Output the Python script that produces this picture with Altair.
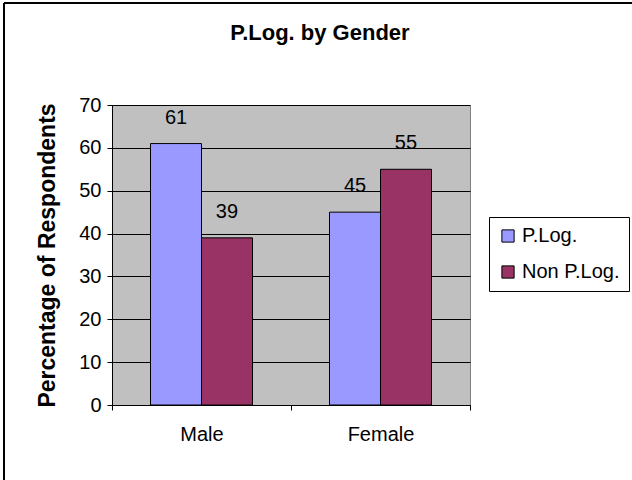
import altair as alt
import pandas as pd

# Survey shares by gender
genders = ["Male", "Female"]
series = ["P.Log.", "Non P.Log."]
plog_values = [61, 45]
non_plog_values = [39, 55]
colors = ["#9999FF", "#993366"]
chart_title = "P.Log. by Gender"

rows = []
for g, a, b in zip(genders, plog_values, non_plog_values):
    rows.append({"gender": g, "series": series[0], "value": a})
    rows.append({"gender": g, "series": series[1], "value": b})
df = pd.DataFrame(rows)

FONT = "Liberation Sans"

x_enc = alt.X(
    "gender:N",
    sort=genders,
    scale=alt.Scale(paddingInner=0, paddingOuter=0),
    axis=alt.Axis(
        title=None, labelAngle=0, tickBand="extent", tickSize=5,
        labelPadding=14, labelFontSize=20, labelFont=FONT, labelColor="black",
        domainColor="black", tickColor="black", grid=False,
    ),
)
xoff_enc = alt.XOffset(
    "series:N", sort=series,
    scale=alt.Scale(paddingOuter=0.755, paddingInner=0),
)
y_enc = alt.Y(
    "value:Q",
    scale=alt.Scale(domain=[0, 70], nice=False),
    axis=alt.Axis(
        title="Percentage of Respondents", values=list(range(0, 71, 10)),
        tickSize=5, labelPadding=6, labelFontSize=20, labelFont=FONT,
        labelColor="black", titleFont=FONT, titleFontSize=23,
        titleFontWeight="bold", titleColor="black", titlePadding=19,
        domainColor="black", tickColor="black",
        grid=True, gridColor="black", gridWidth=1,
    ),
)

# Outer frame edges (top and left) around the figure
frame_top = alt.Chart(df).mark_rule(color="black", strokeWidth=2).encode(
    x=alt.value(-108), x2=alt.value(520), y=alt.value(-102),
)
frame_left = alt.Chart(df).mark_rule(color="black", strokeWidth=2).encode(
    x=alt.value(-108), y=alt.value(-102), y2=alt.value(375),
)

# Chart heading, centred over the whole figure
heading = alt.Chart(pd.DataFrame({"t": [chart_title]})).mark_text(
    font=FONT, fontSize=22, fontWeight="bold", color="black",
    align="center", baseline="alphabetic",
).encode(
    x=alt.value(208), y=alt.value(-65), text="t:N",
)

bars = alt.Chart(df).mark_bar(stroke="black", strokeWidth=1, opacity=1).encode(
    x=x_enc,
    xOffset=xoff_enc,
    y=y_enc,
    color=alt.Color(
        "series:N", sort=series,
        scale=alt.Scale(domain=series, range=colors),
        legend=alt.Legend(
            title=None, orient="none", legendX=377, legendY=112,
            symbolType="square", symbolSize=150, symbolStrokeColor="black",
            symbolStrokeWidth=1, symbolOpacity=1,
            labelFont=FONT, labelFontSize=20, labelColor="black",
            labelLimit=300, rowPadding=16, padding=9,
            strokeColor="black", fillColor="white",
        ),
    ),
)

labels = alt.Chart(df).mark_text(
    baseline="alphabetic", dy=-20, fontSize=20, font=FONT, color="black"
).encode(
    x=alt.X("gender:N", sort=genders),
    xOffset=alt.XOffset("series:N", sort=series),
    y=alt.Y("value:Q"),
    text=alt.Text("value:Q"),
)

chart = alt.layer(frame_top, frame_left, bars, labels, heading).properties(
    width=358,
    height=300,
    autosize=alt.AutoSizeParams(type="none"),
    padding={"left": 112, "top": 105, "right": 162, "bottom": 75},
    background="white",
).configure_view(
    fill="#C0C0C0", stroke="#808080", strokeWidth=1
)

chart.save("out.html", embed_options={"renderer": "svg", "actions": False})
